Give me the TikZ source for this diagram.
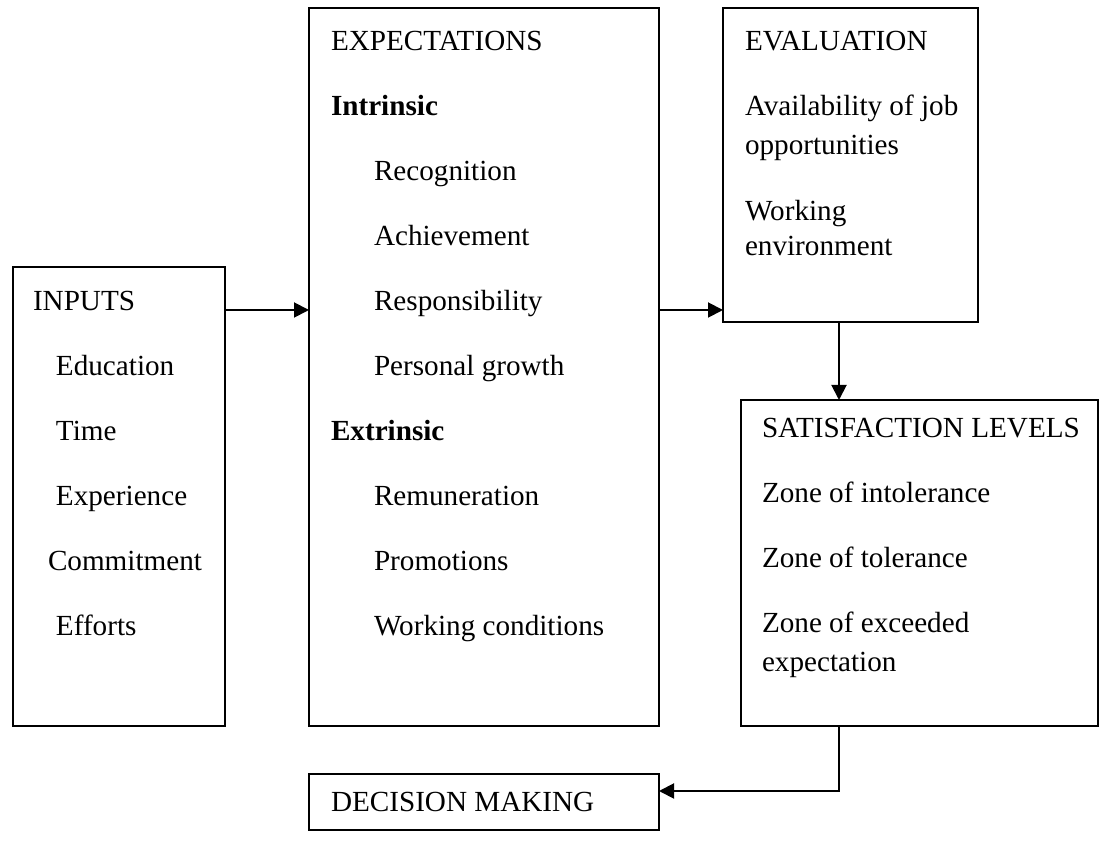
\documentclass[tikz,border=0pt]{standalone}
\usepackage{fontspec}
\setmainfont{Liberation Serif}
\usetikzlibrary{arrows.meta}

\begin{document}
\begin{tikzpicture}[line width=1.1pt]
	\tikzstyle{every node}=[inner sep=0pt, outer sep=0pt, font=\fontsize{16.6}{20}\selectfont]
	\tikzstyle{box}=[draw, rectangle, anchor=north west]
	\tikzstyle{txt}=[anchor=base west]
	\tikzstyle{arr}=[-{Triangle[length=0.3cm,width=0.3cm]}]
	\useasboundingbox (0,0) rectangle (22.3,16.88);
	
	\node[box, minimum width=4.24cm, minimum height=9.18cm] (inputs) at (0.26,11.54) {};
	\node[box, minimum width=7cm, minimum height=14.36cm] (expect) at (6.18,16.72) {};
	\node[box, minimum width=5.1cm, minimum height=6.28cm] (eval) at (14.46,16.72) {};
	\node[box, minimum width=7.14cm, minimum height=6.52cm] (satis) at (14.82,8.88) {};
	\node[box, minimum width=7cm, minimum height=1.12cm] (decision) at (6.18,1.4) {};
	
	\node[txt] (in) at (0.66,10.66) {INPUTS};
	\node[txt] (edu) at (1.12,9.36) {Education};
	\node[txt] (time) at (1.12,8.06) {Time};
	\node[txt] (expr) at (1.12,6.76) {Experience};
	\node[txt] (comm) at (0.96,5.46) {Commitment};
	\node[txt] (eff) at (1.12,4.16) {Efforts};
	
	\node[txt] (ex) at (6.62,15.86) {EXPECTATIONS};
	\node[txt] (intr) at (6.62,14.56) {\textbf{Intrinsic}};
	\node[txt] (recog) at (7.48,13.26) {Recognition};
	\node[txt] (achv) at (7.48,11.96) {Achievement};
	\node[txt] (resp) at (7.48,10.66) {Responsibility};
	\node[txt] (pers) at (7.48,9.36) {Personal growth};
	\node[txt] (extr) at (6.62,8.06) {\textbf{Extrinsic}};
	\node[txt] (remu) at (7.48,6.76) {Remuneration};
	\node[txt] (prom) at (7.48,5.46) {Promotions};
	\node[txt] (wcond) at (7.48,4.16) {Working conditions};
	
	\node[txt] (ev) at (14.9,15.86) {EVALUATION};
	\node[txt] (avail) at (14.9,14.56) {Availability of job};
	\node[txt] (opp) at (14.9,13.78) {opportunities};
	\node[txt] (work) at (14.9,12.46) {Working};
	\node[txt] (env) at (14.9,11.76) {environment};
	
	\node[txt] (sat) at (15.24,8.12) {SATISFACTION LEVELS};
	\node[txt] (zint) at (15.24,6.82) {Zone of intolerance};
	\node[txt] (ztol) at (15.24,5.52) {Zone of tolerance};
	\node[txt] (zexc) at (15.24,4.22) {Zone of exceeded};
	\node[txt] (zexp) at (15.24,3.44) {expectation};
	
	\node[txt] (dm) at (6.62,0.64) {DECISION MAKING};
	
	\coordinate (a1) at (0,10.68);
	\coordinate (d1) at (16.78,0);
	\coordinate (a3) at (0,1.06);
	\draw[arr] (inputs.east |- a1) to (expect.west |- a1);
	\draw[arr] (expect.east |- a1) to (eval.west |- a1);
	\draw[arr] (eval.south -| d1) to (satis.north -| d1);
	\draw[arr] (satis.south -| d1) |- (decision.east |- a3);
\end{tikzpicture}
\end{document}
